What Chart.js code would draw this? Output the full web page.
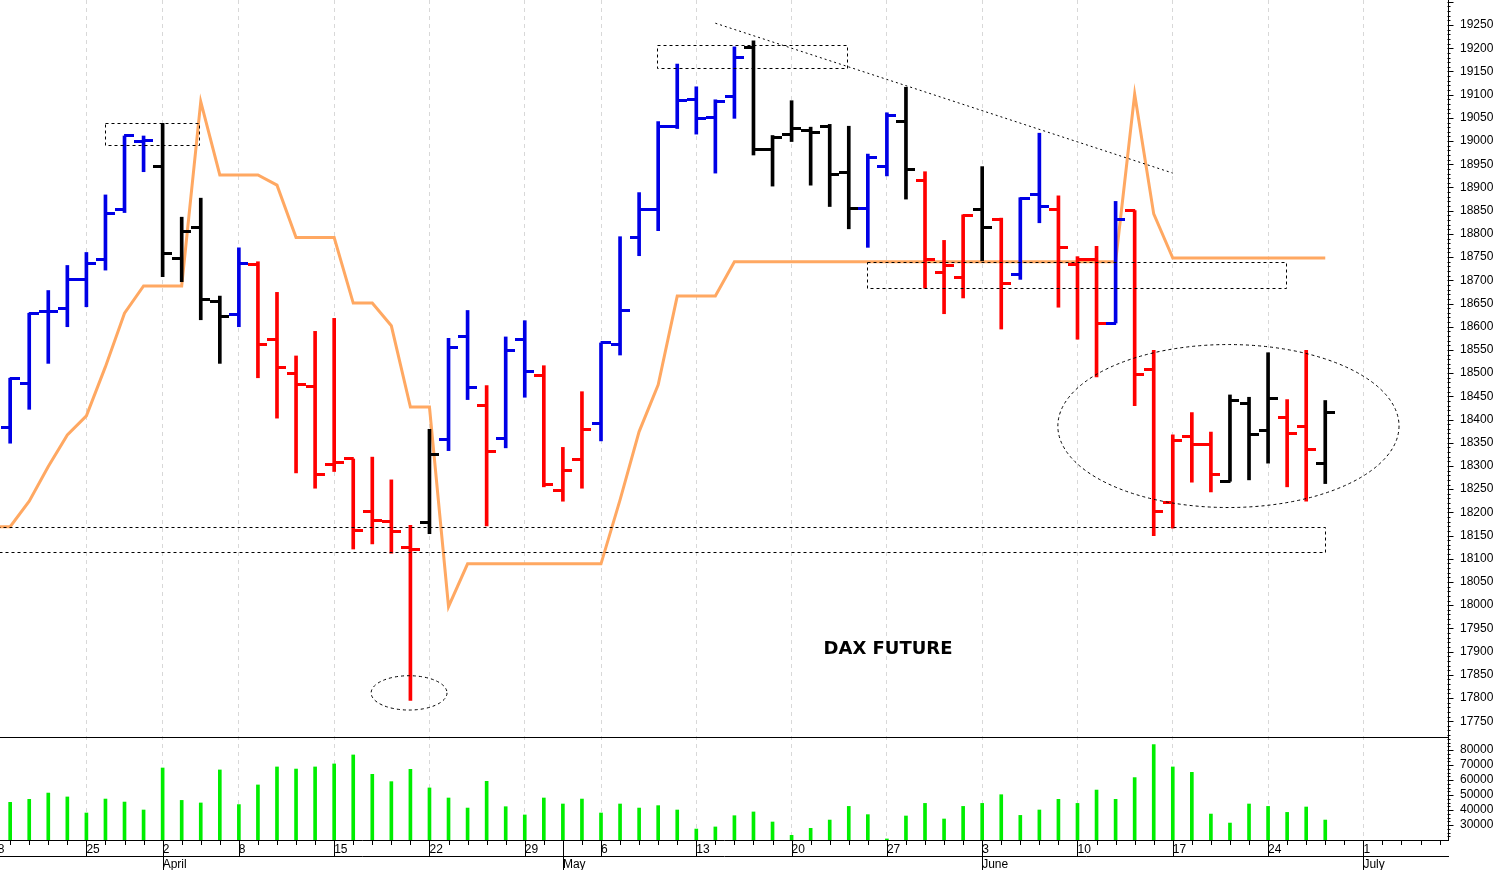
<!DOCTYPE html>
<html>
<head>
<meta charset="utf-8">
<title>DAX Future</title>
<script src="https://cdn.jsdelivr.net/npm/chart.js@4.4.1/dist/chart.umd.min.js"></script>
<style>
  html, body { margin: 0; padding: 0; background: #fff; }
  #wrap { width: 1497px; height: 870px; position: relative; }
</style>
</head>
<body>
<div id="wrap"><canvas id="chart"></canvas></div>
<script>
// x is a trading-day index: 0 = 18 March, 72 = 1 July (holidays skipped)
const weekIdx = [0, 5, 9, 13, 18, 23, 28, 32, 37, 42, 47, 52, 57, 62, 67, 72];
const weekLbl = ["18", "25", "2", "8", "15", "22", "29", "6", "13", "20", "27", "3", "10", "17", "24", "1"];
const monthIdx = [9, 30, 52, 72];
const monthLbl = ["April", "May", "June", "July"];

// daily bars, trading days 1..70
const open = [18382, 18478, 18633, 18640, 18702, 18744, 18852, 18999, 18946, 18748,
  18814, 18654, 18627, 18733, 18573, 18499, 18471, 18304, 18315, 18202,
  18180, 18125, 18179, 18356, 18578, 18431, 18359, 18572, 18494, 18247,
  18313, 18392, 18561, 18793, 18852, 19031, 19090, 19051, 19097, 19202,
  18981, 19015, 19022, 19031, 18933, 18854, 18945, 19043, 18916, 18717,
  18707, 18852, 18830, 18713, 18884, 18852, 18735, 18744, 18608, 18850,
  18507, 18222, 18363, 18347, 18267, 18435, 18376, 18405, 18384, 18306];
const high = [18489, 18629, 18678, 18732, 18760, 18884, 19011, 19011, 19038, 18836,
  18877, 18666, 18770, 18740, 18674, 18537, 18590, 18618, 18315, 18319,
  18270, 18172, 18379, 18575, 18635, 18473, 18578, 18613, 18516, 18340,
  18460, 18565, 18794, 18889, 19042, 19166, 19117, 19089, 19203, 19216,
  19012, 19087, 19030, 19036, 19032, 18972, 19061, 19116, 18934, 18786,
  18841, 18945, 18834, 18878, 19017, 18882, 18751, 18773, 18870, 18850,
  18549, 18367, 18415, 18373, 18453, 18448, 18544, 18443, 18549, 18441];
const low = [18349, 18422, 18521, 18600, 18643, 18722, 18846, 18934, 18708, 18697,
  18615, 18521, 18600, 18490, 18403, 18285, 18252, 18288, 18121, 18132,
  18112, 17795, 18154, 18333, 18443, 18171, 18339, 18448, 18255, 18224,
  18252, 18354, 18539, 18753, 18807, 19027, 19015, 18931, 19049, 18970,
  18903, 18999, 18905, 18859, 18811, 18771, 18925, 18875, 18683, 18628,
  18662, 18742, 18595, 18702, 18824, 18642, 18573, 18492, 18608, 18430,
  18150, 18166, 18265, 18244, 18267, 18270, 18306, 18255, 18224, 18262];
const close = [18489, 18629, 18633, 18702, 18737, 18843, 19011, 19001, 18758, 18805,
  18659, 18621, 18737, 18562, 18512, 18475, 18281, 18308, 18160, 18183,
  18158, 18120, 18324, 18555, 18470, 18332, 18548, 18503, 18259, 18290,
  18379, 18565, 18634, 18853, 19032, 19087, 19048, 19085, 19180, 18981,
  19007, 19028, 19019, 18927, 18854, 18964, 19056, 18938, 18744, 18731,
  18840, 18814, 18694, 18877, 18860, 18771, 18744, 18608, 18832, 18496,
  18201, 18354, 18346, 18281, 18441, 18367, 18445, 18369, 18336, 18415];
// B = blue, K = black, R = red
const barTone = "BBBBBBBBKKKKBRRRRRRRRRKBBRBBRRRBBBBBBBBKKKKKKBBKRRRKRBBRRRBRRRRRKKKRRK".split("");
const volume = [45100, 47100, 51300, 48700, 38000, 47300, 45300, 40000, 68000, 46400,
  44700, 66700, 43600, 56700, 68700, 67300, 68700, 70700, 76700, 63800,
  58900, 67100, 54700, 48000, 41300, 59100, 42200, 36700, 48000, 44000,
  47300, 38000, 44000, 41300, 42900, 40000, 27300, 28700, 36200, 38700,
  32000, 23100, 27800, 33300, 42400, 36900, 20700, 36000, 44400, 34000,
  42400, 44400, 50200, 36400, 40000, 47100, 44400, 53300, 47100, 61600,
  83600, 68700, 65100, 37300, 31300, 44000, 42400, 38400, 42000, 33300];
// orange indicator, trading days 0..70
const signal = [18169, 18169, 18224, 18299, 18367, 18408, 18514, 18629, 18688, 18688,
  18688, 19085, 18927, 18927, 18927, 18905, 18792, 18792, 18792, 18651,
  18651, 18602, 18427, 18427, 17997, 18089, 18089, 18089, 18089, 18089,
  18089, 18089, 18089, 18227, 18374, 18475, 18666, 18666, 18666, 18740,
  18740, 18740, 18740, 18740, 18740, 18740, 18740, 18740, 18740, 18740,
  18740, 18740, 18740, 18740, 18740, 18740, 18740, 18740, 18740, 18740,
  19101, 18843, 18748, 18748, 18748, 18748, 18748, 18748, 18748, 18748, 18748];

const priceTicks = [];
for (let v = 17750; v <= 19250; v += 50) priceTicks.push(v);
const volTicks = [30000, 40000, 50000, 60000, 70000, 80000];

// hand-drawn marks on the chart: [day from, day to, price top, price bottom]
const boxes = [[5.99, 10.92, 19038, 18991], [34.94, 44.9, 19207, 19157],
  [45.95, 67.94, 18739, 18683], [0, 69.98, 18169, 18115]];
// [day centre, price centre, day radius, price radius]
const rings = [[21.93, 17811, 1.99, 37], [64.92, 18386, 8.95, 175.6]];
const trend = [38.0, 19254, 62.0, 18931];
const title = { text: "DAX FUTURE", day: 47.06, price: 17895 };

const xMin = 0.467, xMax = 76.44;
const priceMin = 17494, priceMax = 19304;
const volMin = 20000, volMax = 580000, volTop = 88700;

const toneColor = { B: "#0000e6", K: "#000000", R: "#ff0000" };
const days = open.map((_, k) => k + 1);

function tickImg(color, side) {
  const c = document.createElement("canvas");
  c.width = 19; c.height = 3;
  const g = c.getContext("2d");
  g.fillStyle = color;
  if (side === "open") g.fillRect(0, 0, 10, 3); else g.fillRect(9, 0, 10, 3);
  return c;
}
const openImg = {}, closeImg = {};
Object.keys(toneColor).forEach(k => {
  openImg[k] = tickImg(toneColor[k], "open");
  closeImg[k] = tickImg(toneColor[k], "close");
});

Chart.defaults.font.family = "'Liberation Sans', Arial, sans-serif";
Chart.defaults.font.size = 12;
Chart.defaults.color = "#000";

const overlay = {
  id: "overlay",
  afterLayout(chart) {
    // volume labels share the price axis column
    const { y, yv } = chart.scales;
    yv.left = y.left; yv.right = y.right; yv.width = y.width;
  },
  afterDraw(chart) {
    const { ctx, chartArea: a, scales: { x, y, yv } } = chart;
    ctx.save();
    ctx.strokeStyle = "#000";
    ctx.lineWidth = 1;

    // separator between price and volume panels
    const sep = Math.round(yv.getPixelForValue(volTop)) + 0.5;
    ctx.beginPath();
    ctx.moveTo(a.left, sep);
    ctx.lineTo(a.right, sep);
    ctx.stroke();

    // right axis tick marks
    const ax = Math.round(a.right) - 0.5;
    ctx.beginPath();
    for (let v = 17500; v <= 19300; v += 10) {
      const py = Math.round(y.getPixelForValue(v)) + 0.5;
      if (py > sep) continue;
      ctx.moveTo(ax, py);
      ctx.lineTo(ax + (v % 50 === 0 ? 6 : 3), py);
    }
    for (let v = 22500; v <= 87500; v += 2500) {
      const py = Math.round(yv.getPixelForValue(v)) + 0.5;
      ctx.moveTo(ax, py);
      ctx.lineTo(ax + (v % 10000 === 0 ? 6 : 3), py);
    }
    ctx.stroke();

    // day ticks, week and month separators under the plot
    const b = a.bottom;
    ctx.beginPath();
    for (let d = 0; d <= 76; d++) {
      const px = Math.round(x.getPixelForValue(d)) + 0.5;
      if (px < a.left || px > a.right) continue;
      let len = 5;
      if (weekIdx.includes(d)) len = 16;
      if (monthIdx.includes(d)) len = 30;
      ctx.moveTo(px, b);
      ctx.lineTo(px, b + len);
    }
    ctx.stroke();

    // drawn annotations
    ctx.save();
    ctx.beginPath();
    ctx.rect(a.left, a.top, a.right - a.left, a.bottom - a.top);
    ctx.clip();
    ctx.setLineDash([3, 3]);
    boxes.forEach(([d0, d1, p0, p1]) => {
      const x0 = Math.round(x.getPixelForValue(d0)) + 0.5;
      const x1 = Math.round(x.getPixelForValue(d1)) + 0.5;
      const y0 = Math.round(y.getPixelForValue(p0)) + 0.5;
      const y1 = Math.round(y.getPixelForValue(p1)) + 0.5;
      ctx.strokeRect(x0, y0, x1 - x0, y1 - y0);
    });
    rings.forEach(([d, p, rd, rp]) => {
      const cx = x.getPixelForValue(d), cy = y.getPixelForValue(p);
      const rx = Math.abs(x.getPixelForValue(d + rd) - cx);
      const ry = Math.abs(y.getPixelForValue(p + rp) - cy);
      ctx.beginPath();
      ctx.ellipse(cx, cy, rx, ry, 0, 0, Math.PI * 2);
      ctx.stroke();
    });
    ctx.setLineDash([2, 3]);
    ctx.beginPath();
    ctx.moveTo(x.getPixelForValue(trend[0]), y.getPixelForValue(trend[1]));
    ctx.lineTo(x.getPixelForValue(trend[2]), y.getPixelForValue(trend[3]));
    ctx.stroke();
    ctx.restore();

    ctx.fillStyle = "#000";
    ctx.font = "bold 18px 'DejaVu Sans', sans-serif";
    ctx.textAlign = "center";
    ctx.textBaseline = "alphabetic";
    ctx.fillText(title.text, x.getPixelForValue(title.day), y.getPixelForValue(title.price));
    ctx.restore();
  }
};

new Chart(document.getElementById("chart"), {
  type: "bar",
  data: {
    datasets: [
      {
        type: "line",
        label: "signal",
        data: signal.map((v, k) => ({ x: k, y: v })),
        borderColor: "#ffa862",
        borderWidth: 3,
        pointRadius: 0,
        tension: 0,
        yAxisID: "y",
        order: 5
      },
      {
        label: "range",
        data: days.map((d, k) => ({ x: d, y: [low[k], high[k]] })),
        backgroundColor: barTone.map(t => toneColor[t]),
        barThickness: 3,
        borderWidth: 0,
        grouped: false,
        yAxisID: "y",
        order: 2
      },
      {
        type: "line",
        label: "open",
        data: days.map((d, k) => ({ x: d, y: open[k] })),
        showLine: false,
        pointStyle: barTone.map(t => openImg[t]),
        pointRadius: 3,
        yAxisID: "y",
        order: 1
      },
      {
        type: "line",
        label: "close",
        data: days.map((d, k) => ({ x: d, y: close[k] })),
        showLine: false,
        pointStyle: barTone.map(t => closeImg[t]),
        pointRadius: 3,
        yAxisID: "y",
        order: 1
      },
      {
        label: "volume",
        data: days.map((d, k) => ({ x: d, y: volume[k] })),
        backgroundColor: "#00ee00",
        barThickness: 3,
        borderWidth: 0,
        grouped: false,
        yAxisID: "yv",
        order: 3
      }
    ]
  },
  options: {
    responsive: true,
    maintainAspectRatio: false,
    animation: false,
    devicePixelRatio: 1,
    events: [],
    layout: { padding: 0, autoPadding: false },
    plugins: { legend: { display: false }, tooltip: { enabled: false }, title: { display: false } },
    scales: {
      x: {
        type: "linear", position: "bottom", weight: 0,
        min: xMin, max: xMax, offset: false,
        grid: { offset: false, color: "#d8d8d8", lineWidth: 1, drawTicks: false, drawOnChartArea: true, borderDash: [4, 4] },
        border: { display: true, color: "#000", width: 1, dash: [4, 4] },
        ticks: {
          autoSkip: false, maxRotation: 0, minRotation: 0, align: "start", padding: 2, color: "#000",
          callback: v => { const k = weekIdx.indexOf(v); return k >= 0 ? weekLbl[k] : ""; }
        },
        afterBuildTicks: s => { s.ticks = weekIdx.map(v => ({ value: v })); },
        afterFit: s => { s.height = 16; s.paddingLeft = 0; s.paddingRight = 0; }
      },
      xm: {
        type: "linear", position: "bottom", weight: 1,
        min: xMin, max: xMax, offset: false,
        grid: { display: false, drawTicks: false, drawOnChartArea: false },
        border: { display: true, color: "#000", width: 1 },
        ticks: {
          autoSkip: false, maxRotation: 0, minRotation: 0, align: "start", padding: 1, color: "#000",
          callback: v => { const k = monthIdx.indexOf(v); return k >= 0 ? monthLbl[k] : ""; }
        },
        afterBuildTicks: s => { s.ticks = monthIdx.map(v => ({ value: v })); },
        afterFit: s => { s.height = 14; s.paddingLeft = 0; s.paddingRight = 0; }
      },
      yv: {
        type: "linear", position: "right", weight: 0,
        min: volMin, max: volMax,
        grid: { display: false, drawTicks: false, drawOnChartArea: false },
        border: { display: false },
        ticks: { autoSkip: false, padding: 12, color: "#000", callback: v => String(v) },
        afterBuildTicks: s => { s.ticks = volTicks.map(v => ({ value: v })); },
        afterFit: s => { s.width = 0; s.paddingTop = 0; s.paddingBottom = 0; }
      },
      y: {
        type: "linear", position: "right", weight: 1,
        min: priceMin, max: priceMax,
        grid: { display: false, drawTicks: false, drawOnChartArea: false },
        border: { display: true, color: "#000", width: 1 },
        ticks: { autoSkip: false, padding: 12, color: "#000", callback: v => String(v) },
        afterBuildTicks: s => { s.ticks = priceTicks.map(v => ({ value: v })); },
        afterFit: s => { s.width = 49; s.paddingTop = 0; s.paddingBottom = 0; }
      }
    }
  },
  plugins: [overlay]
});
</script>
</body>
</html>
